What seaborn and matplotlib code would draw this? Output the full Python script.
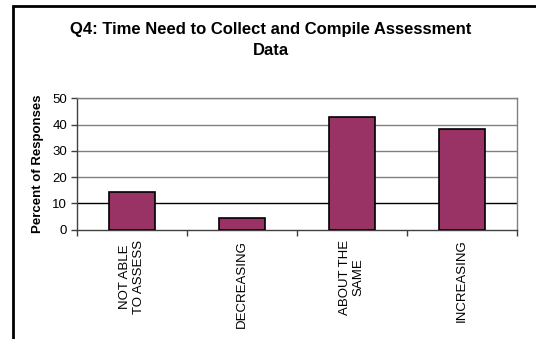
import matplotlib
matplotlib.use("Agg")
import matplotlib.pyplot as plt
import seaborn as sns
import pandas as pd

# Survey responses (percent) for each answer option
categories = ["NOT ABLE\nTO ASSESS", "DECREASING", "ABOUT THE\nSAME", "INCREASING"]
percents = [14.2, 4.6, 43.0, 38.4]
y_ticks = [0, 10, 20, 30, 40, 50]

sns.set_theme(style="white")
plt.rcParams["font.family"] = ["Liberation Sans", "DejaVu Sans"]
plt.rcParams.update({"text.color": "black", "axes.labelcolor": "black",
                     "xtick.color": "black", "ytick.color": "black"})

df = pd.DataFrame({"answer": categories, "percent": percents})

W, H = 536, 339
fig = plt.figure(figsize=(W / 100, H / 100), dpi=100)
fig.patch.set_facecolor("white")

# Outer chart frame in pixel coordinates: left and top edges
# (the right and bottom edges run off the canvas)
bg = fig.add_axes([0, 0, 1, 1], zorder=0)
bg.set_xlim(0, W)
bg.set_ylim(H, 0)
bg.axis("off")
bg.plot([12.5, 12.5, W + 5], [H + 5, 5.5, 5.5], color="black",
        linewidth=2.0, solid_joinstyle="miter", clip_on=False)

ax = fig.add_axes([77 / W, 1 - 229.7 / H, (517 - 77) / W, (229.7 - 98.3) / H],
                  zorder=1)

sns.barplot(data=df, x="answer", y="percent", ax=ax, color="#993366",
            saturation=1, width=0.42, edgecolor="black", linewidth=1.2,
            zorder=3)

ax.set_ylim(0, 50)
ax.set_xlim(-0.5, len(categories) - 0.5)
ax.set_yticks(y_ticks)
ax.set_yticklabels([str(t) for t in y_ticks], fontsize=9.5)

# Horizontal gridlines
for t in y_ticks[1:]:
    ax.axhline(t, color="black" if t == 10 else "#808080", linewidth=1.0, zorder=1)

# Category boundary tick marks on the x axis
ax.set_xticks([i - 0.5 for i in range(len(categories) + 1)])
ax.set_xticklabels([""] * (len(categories) + 1))
ax.tick_params(axis="x", direction="out", length=4, width=1,
               color="#404040", bottom=True)
ax.tick_params(axis="y", direction="out", length=4, width=1, color="#404040",
               left=True, pad=3)
for i, lab in enumerate(categories):
    ax.text(i, -3.8, lab, rotation=90, ha="center", va="top",
            multialignment="center", fontsize=9.5, clip_on=False)

for side in ["left", "bottom"]:
    ax.spines[side].set_color("#404040")
    ax.spines[side].set_linewidth(1.0)
for side in ["top", "right"]:
    ax.spines[side].set_color("#808080")
    ax.spines[side].set_linewidth(1.0)
    ax.spines[side].set_visible(True)

ax.set_xlabel("")
ax.set_ylabel("Percent of Responses", fontsize=9.5, fontweight="bold", labelpad=6)

fig.text(271 / W, 1 - 40 / H, "Q4: Time Need to Collect and Compile Assessment\nData",
         ha="center", va="center", fontsize=12, fontweight="bold",
         linespacing=1.5)

fig.savefig("out.png", dpi=100)
